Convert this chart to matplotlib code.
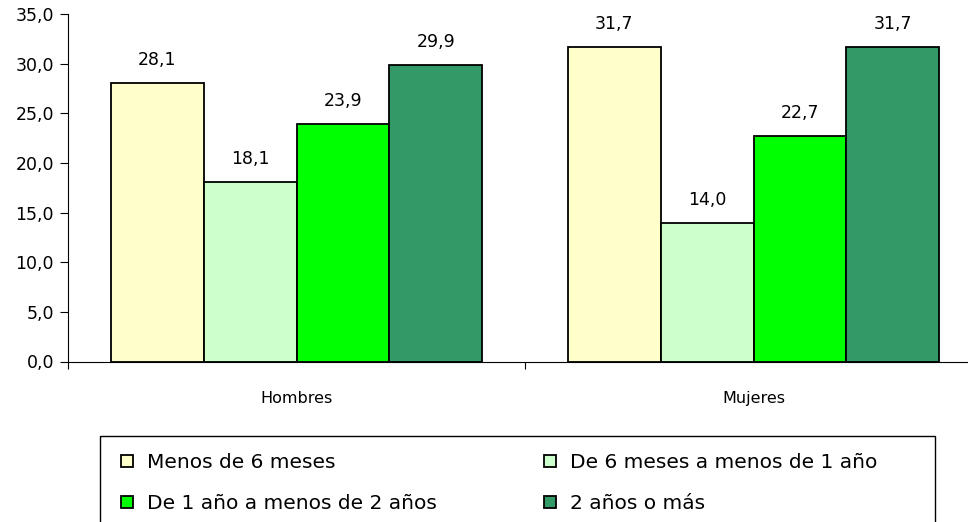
"""Bar chart: duración por sexo (Hombres / Mujeres)."""

import matplotlib.pyplot as plt
import numpy as np
from matplotlib.patches import Rectangle

plt.rcParams["font.family"] = ["DejaVu Sans"]

groups = ["Hombres", "Mujeres"]
series_labels = [
    "Menos de 6 meses",
    "De 6 meses a menos de 1 año",
    "De 1 año a menos de 2 años",
    "2 años o más",
]
values = [
    [28.1, 31.7],
    [18.1, 14.0],
    [23.9, 22.7],
    [29.9, 31.7],
]
colors = ["#FFFFCC", "#CCFFCC", "#00FF00", "#339966"]
y_ticks = [0, 5, 10, 15, 20, 25, 30, 35]


def fmt(v: float) -> str:
    return f"{v:.1f}".replace(".", ",")


W, H = 968, 522
fig = plt.figure(figsize=(W / 100, H / 100), dpi=100)
ax = fig.add_axes([68 / W, 1 - 361.5 / H, 914 / W, (361.5 - 14) / H])

x = np.arange(len(groups))
bar_w = 0.203
for i, (vals, color, label) in enumerate(zip(values, colors, series_labels)):
    offset = (i - 1.5) * bar_w
    bars = ax.bar(x + offset, vals, bar_w, color=color, edgecolor="black",
                  linewidth=1.3, label=label)
    ax.bar_label(bars, labels=[fmt(v) for v in vals], padding=10, fontsize=12.5)

ax.set_xlim(-0.5, 1.5)
ax.set_ylim(0, 35)
ax.set_yticks(y_ticks)
ax.set_yticklabels([fmt(v) for v in y_ticks], fontsize=12.5)
ax.set_xticks([-0.5, 0.5, 1.5])
ax.set_xticklabels([])
ax.set_xticks(x, minor=True)
ax.set_xticklabels(groups, minor=True, fontsize=11.5)
ax.tick_params(axis="x", which="major", length=5, direction="out")
ax.tick_params(axis="x", which="minor", length=0, pad=21)
ax.tick_params(axis="y", length=6, direction="out", pad=4)
for side in ("top", "right"):
    ax.spines[side].set_visible(False)

# legend box, cut off at the bottom of the image as in the original
fig.patches.append(Rectangle(
    (100 / W, -0.05), 835 / W, (1 - 436 / H) + 0.05,
    transform=fig.transFigure, fill=False, edgecolor="black", linewidth=1.0,
))

handles, labels = ax.get_legend_handles_labels()
order = [0, 2, 1, 3]
fig.legend(
    [handles[k] for k in order],
    [labels[k] for k in order],
    loc="upper left",
    bbox_to_anchor=(121 / W, 1 - 453 / H),
    ncol=2,
    frameon=False,
    fontsize=14.5,
    handlelength=0.6,
    handleheight=0.6,
    handletextpad=0.7,
    labelspacing=1.1,
    columnspacing=5.3,
    borderpad=0,
    borderaxespad=0,
)

fig.savefig("out.png", dpi=100)
